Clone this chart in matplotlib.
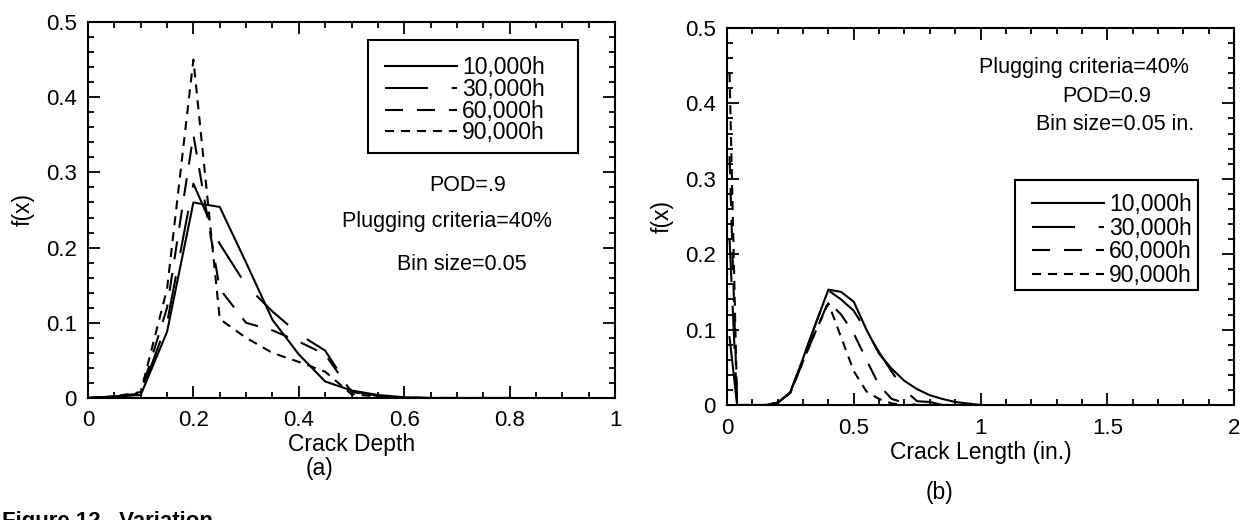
import matplotlib
matplotlib.use("Agg")
import matplotlib.pyplot as plt
from matplotlib.patches import Rectangle
from matplotlib.ticker import MultipleLocator, FuncFormatter

plt.rcParams['font.family'] = ['Liberation Sans', 'DejaVu Sans']
plt.rcParams['lines.scale_dashes'] = False

# ---- data -------------------------------------------------------------
series_labels = ['10,000h', '30,000h', '60,000h', '90,000h']

# (a) crack depth distribution
depth_x = [0.0, 0.05, 0.1, 0.15, 0.2, 0.25, 0.3, 0.35, 0.4, 0.45, 0.5,
           0.55, 0.6, 0.65, 0.7, 0.75, 0.8]
depth_10k = [0, 0.002, 0.004, 0.088, 0.26, 0.254, 0.18, 0.104, 0.058, 0.022,
             0.010, 0.004, 0.001, 0, 0, 0, 0]
depth_30k = [0, 0.002, 0.005, 0.100, 0.285, 0.205, 0.150, 0.115, 0.085, 0.063,
             0.009, 0.003, 0.001, 0, 0, 0, 0]
depth_60k = [0, 0.002, 0.006, 0.120, 0.350, 0.145, 0.100, 0.090, 0.075, 0.058,
             0.008, 0.003, 0, 0, 0, 0, 0]
depth_90k = [0, 0.002, 0.008, 0.145, 0.450, 0.105, 0.080, 0.060, 0.048, 0.035,
             0.005, 0.002, 0, 0, 0, 0, 0]

# (b) crack length distribution
length_x = [0.01, 0.04, 0.1, 0.15, 0.2, 0.25, 0.3, 0.35, 0.4, 0.45, 0.5,
            0.55, 0.6, 0.65, 0.7, 0.75, 0.8, 0.85, 0.9, 0.95, 1.0]
length_10k = [0.09, 0, 0, 0, 0.003, 0.017, 0.062, 0.108, 0.153, 0.150, 0.137,
              0.100, 0.068, 0.048, 0.032, 0.021, 0.013, 0.008, 0.004, 0.002, 0]
length_30k = [0.22, 0, 0, 0, 0.003, 0.017, 0.062, 0.108, 0.152, 0.140, 0.125,
              0.098, 0.070, 0.044, 0.020, 0.005, 0.004, 0, 0, 0, 0]
length_60k = [0.33, 0, 0, 0, 0.003, 0.016, 0.058, 0.098, 0.137, 0.120, 0.095,
              0.060, 0.026, 0.008, 0.003, 0, 0, 0, 0, 0, 0]
length_90k = [0.44, 0, 0, 0, 0.003, 0.016, 0.058, 0.098, 0.135, 0.090, 0.045,
              0.018, 0.008, 0.002, 0, 0, 0, 0, 0, 0, 0]

# ---- styles -----------------------------------------------------------
line_styles = ['-', (0, (31, 17)), (0, (13, 10)), (0, (6.5, 5))]
LW = 1.5
FS_TICK = 16
FS_LABEL = 16.5
FS_TEXT = 15.5
FS_LEGEND = 16.5

W, H = 1245, 520


def fx(px):
    return px / W


def fy(py):
    return 1 - py / H


fig = plt.figure(figsize=(W / 100, H / 100), dpi=100)
fig.patch.set_facecolor('white')

ax1 = fig.add_axes([fx(88), fy(398), (615 - 88) / W, (398 - 22) / H])
ax2 = fig.add_axes([fx(727), fy(405), (1234 - 727) / W, (405 - 28) / H])


def style_axes(ax, xmax, xmajor, xminor):
    ax.set_xlim(0, xmax)
    ax.set_ylim(0, 0.5)
    ax.xaxis.set_major_locator(MultipleLocator(xmajor))
    ax.xaxis.set_minor_locator(MultipleLocator(xminor))
    ax.yaxis.set_major_locator(MultipleLocator(0.1))
    ax.yaxis.set_minor_locator(MultipleLocator(0.02))
    fmt = FuncFormatter(lambda v, p: f'{v:g}')
    ax.xaxis.set_major_formatter(fmt)
    ax.yaxis.set_major_formatter(fmt)
    ax.tick_params(which='both', direction='in', top=True, right=True,
                   width=1.3, color='black')
    ax.tick_params(which='major', length=8.5, labelsize=FS_TICK)
    ax.tick_params(axis='x', which='major', pad=9)
    ax.tick_params(axis='y', which='major', pad=8)
    ax.tick_params(which='minor', length=4.5)
    for s in ax.spines.values():
        s.set_linewidth(1.5)
    ax.set_ylabel('f(x)', fontsize=FS_LABEL, labelpad=8)


def draw_legend(ax, handles, box, anchor, spacing):
    x0, y0, w, h = box
    ax.add_patch(Rectangle((x0, y0), w, h, transform=ax.transAxes,
                           fill=False, edgecolor='black', linewidth=1.5,
                           zorder=5))
    ax.legend(handles, series_labels, loc='center left', bbox_to_anchor=anchor,
              frameon=False, fontsize=FS_LEGEND, handlelength=3.15,
              handletextpad=0.2, labelspacing=spacing, borderpad=0,
              borderaxespad=0)


# ---- (a) crack depth --------------------------------------------------
style_axes(ax1, 1.0, 0.2, 0.05)
h1 = []
for ys, ls in zip([depth_10k, depth_30k, depth_60k, depth_90k], line_styles):
    ln, = ax1.plot(depth_x, ys, color='black', linewidth=LW, linestyle=ls)
    h1.append(ln)
ax1.set_xlabel('Crack Depth', fontsize=FS_LABEL, labelpad=1)
draw_legend(ax1, h1, (0.531, 0.652, 0.398, 0.300), (0.564, 0.792), -0.05)

fig.text(fx(468), fy(185), 'POD=.9', fontsize=FS_TEXT, ha='center', va='center')
fig.text(fx(447), fy(221), 'Plugging criteria=40%', fontsize=FS_TEXT,
         ha='center', va='center')
fig.text(fx(462), fy(265), 'Bin size=0.05', fontsize=FS_TEXT,
         ha='center', va='center')

# ---- (b) crack length -------------------------------------------------
style_axes(ax2, 2.0, 0.5, 0.1)
h2 = []
for ys, ls in zip([length_10k, length_30k, length_60k, length_90k], line_styles):
    ln, = ax2.plot(length_x, ys, color='black', linewidth=LW, linestyle=ls)
    h2.append(ln)
ax2.set_xlabel('Crack Length (in.)', fontsize=FS_LABEL, labelpad=2)
draw_legend(ax2, h2, (0.568, 0.305, 0.361, 0.292), (0.602, 0.438), 0.02)

fig.text(fx(1084), fy(68), 'Plugging criteria=40%', fontsize=FS_TEXT,
         ha='center', va='center')
fig.text(fx(1107), fy(97), 'POD=0.9', fontsize=FS_TEXT, ha='center', va='center')
fig.text(fx(1115), fy(125), 'Bin size=0.05 in.', fontsize=FS_TEXT,
         ha='center', va='center')

# ---- panel captions ---------------------------------------------------
fig.text(fx(320), fy(468), '(a)', fontsize=FS_LABEL, ha='center', va='center')
fig.text(fx(940), fy(492), '(b)', fontsize=FS_LABEL, ha='center', va='center')
fig.text(fx(2), fy(511), 'Figure 12.  Variation', fontsize=16,
         fontweight='bold', ha='left', va='top')

fig.savefig('out.png', dpi=100, facecolor='white')
